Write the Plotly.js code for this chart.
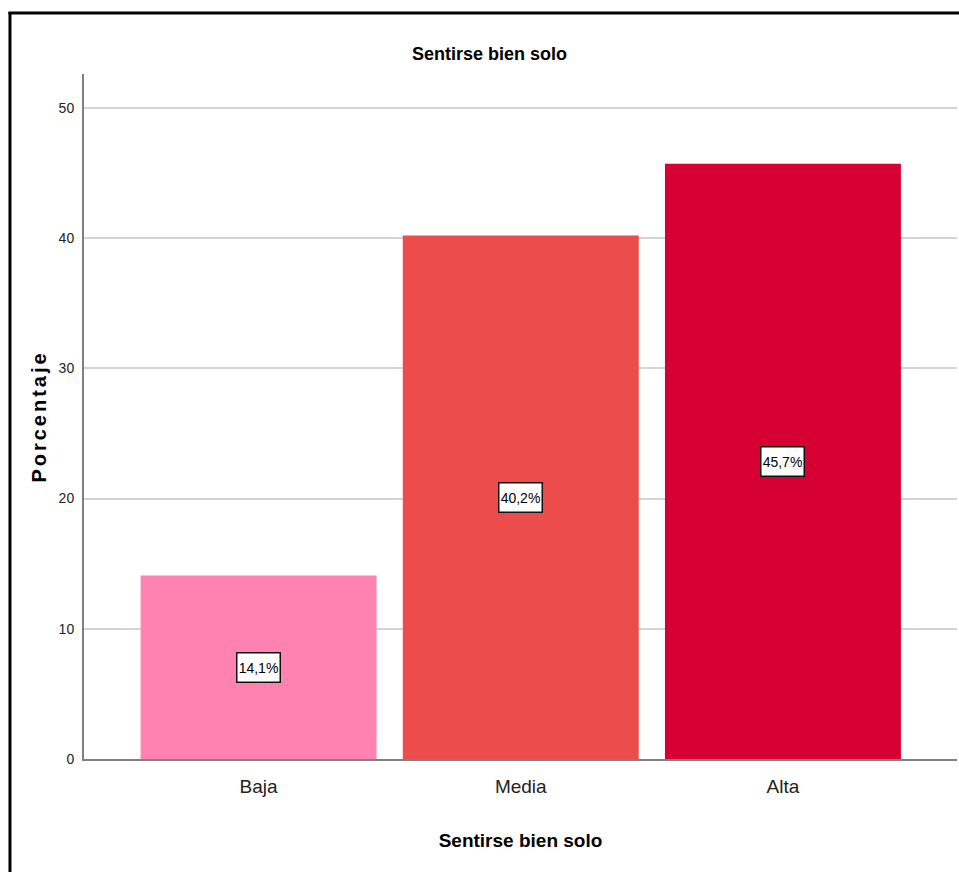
<!DOCTYPE html>
<html>
<head>
<meta charset="utf-8">
<script src="https://cdn.plot.ly/plotly-3.0.1.min.js"></script>
<style>
html,body{margin:0;padding:0;background:#fff;}
#chart{width:959px;height:872px;}
#chart .ytitle{letter-spacing:3px;}
</style>
</head>
<body>
<div id="chart"></div>
<script>
const categories = ["Baja", "Media", "Alta"];
const percentages = [14.1, 40.2, 45.7];
const barLabels = ["14,1%", "40,2%", "45,7%"];
const barColors = ["#FF82B0", "#EC4C4C", "#D70032"];
const yTickValues = [0, 10, 20, 30, 40, 50];
const chartTitle = "Sentirse bien solo";
const xTitle = "Sentirse bien solo";
const yTitle = "Porcentaje";

const sans = "'Liberation Sans', Arial, sans-serif";

const trace = {
  type: "bar",
  x: categories,
  y: percentages,
  marker: {color: barColors, line: {width: 0}},
  hoverinfo: "none"
};

const annotations = categories.map((c, i) => ({
  x: c, y: percentages[i] / 2, xref: "x", yref: "y",
  text: barLabels[i], showarrow: false,
  font: {family: sans, size: 14, color: "#000"},
  width: 42, height: 28, align: "center", valign: "middle",
  bgcolor: "#fff", bordercolor: "#111", borderwidth: 1.5, borderpad: 0
}));

annotations.push({
  x: 0.465, y: 1.0, xref: "paper", yref: "paper",
  yanchor: "bottom", yshift: 8,
  text: "<b>" + chartTitle + "</b>", showarrow: false,
  font: {family: sans, size: 18, color: "#000"}
});

const layout = {
  width: 959, height: 872,
  margin: {l: 84, r: 2, t: 74, b: 113},
  paper_bgcolor: "#fff", plot_bgcolor: "#fff",
  showlegend: false,
  bargap: 0.1,
  xaxis: {
    range: [-0.666, 2.664],
    showgrid: false,
    showline: true, linecolor: "#808080", linewidth: 2,
    ticks: "", ticklabelstandoff: 9,
    tickfont: {family: sans, size: 19, color: "#222"},
    title: {text: "<b>" + xTitle + "</b>", font: {family: sans, size: 19, color: "#000"}, standoff: 38},
    fixedrange: true
  },
  yaxis: {
    range: [0, 52.6],
    tickvals: yTickValues,
    showgrid: true, gridcolor: "#d4d4d4", gridwidth: 2,
    zeroline: false,
    showline: true, linecolor: "#808080", linewidth: 2,
    ticks: "", ticklabelstandoff: 5,
    tickfont: {family: sans, size: 14, color: "#222"},
    title: {text: "<b>" + yTitle + "</b>", font: {family: sans, size: 20, color: "#000"}, standoff: 7},
    fixedrange: true
  },
  annotations: annotations,
  shapes: [
    {type: "line", xref: "paper", yref: "paper", x0: -0.0848, x1: -0.0848, y0: -0.2, y1: 1.0905, line: {color: "#000", width: 3}},
    {type: "line", xref: "paper", yref: "paper", x0: -0.0865, x1: 1.003, y0: 1.089, y1: 1.089, line: {color: "#000", width: 3}}
  ]
};

Plotly.newPlot("chart", [trace], layout, {displayModeBar: false, staticPlot: true});
</script>
</body>
</html>
